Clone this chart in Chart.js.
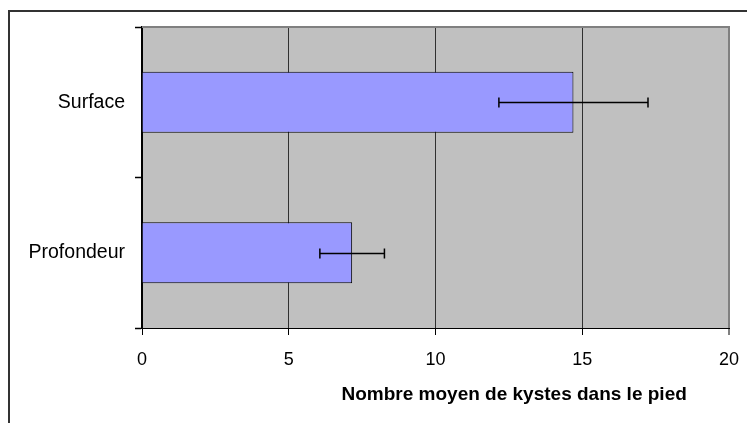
<!DOCTYPE html>
<html>
<head>
<meta charset="utf-8">
<script src="https://cdn.jsdelivr.net/npm/chart.js@4"></script>
<style>
  html, body { margin: 0; padding: 0; background: #fff; }
  canvas { display: block; }
</style>
</head>
<body>
<canvas id="c" width="747" height="423"></canvas>
<script>
const categories = ['Surface', 'Profondeur'];
const means = [14.7, 7.16];
const errors = [2.54, 1.1];
const xMin = 0;
const xMax = 20;
const xStep = 5;
const xTitle = 'Nombre moyen de kystes dans le pied';

const FONT = "'Liberation Sans', Arial, sans-serif";
Chart.defaults.font.family = FONT;
Chart.defaults.color = '#000';

const bgPlugin = {
  id: 'bg',
  beforeDraw(chart) {
    const { ctx, chartArea: a } = chart;
    ctx.save();
    ctx.fillStyle = '#C0C0C0';
    ctx.fillRect(a.left, a.top, a.right - a.left, a.bottom - a.top);
    ctx.restore();
  },
  afterDatasetsDraw(chart) {
    const { ctx } = chart;
    const xs = chart.scales.x, ys = chart.scales.y;
    ctx.save();
    ctx.strokeStyle = '#000';
    ctx.lineWidth = 1.5;
    means.forEach((m, i) => {
      const y = Math.round(ys.getPixelForValue(i)) + 0.5;
      const x1 = xs.getPixelForValue(m - errors[i]);
      const x2 = xs.getPixelForValue(m + errors[i]);
      ctx.beginPath();
      ctx.moveTo(x1, y); ctx.lineTo(x2, y);
      ctx.moveTo(x1, y - 5); ctx.lineTo(x1, y + 5);
      ctx.moveTo(x2, y - 5); ctx.lineTo(x2, y + 5);
      ctx.stroke();
    });
    ctx.restore();
  },
  afterDraw(chart) {
    const { ctx, chartArea: a } = chart;
    ctx.save();
    // plot area top border
    ctx.strokeStyle = '#808080';
    ctx.lineWidth = 2;
    ctx.beginPath();
    ctx.moveTo(a.left, a.top);
    ctx.lineTo(a.right + 1, a.top);
    ctx.stroke();
    // outer frame
    ctx.strokeStyle = '#333';
    ctx.lineWidth = 2;
    ctx.beginPath();
    ctx.moveTo(9, 423);
    ctx.lineTo(9, 11);
    ctx.lineTo(747, 11);
    ctx.stroke();
    // axis title
    ctx.fillStyle = '#000';
    ctx.font = 'bold 19px ' + FONT;
    ctx.textAlign = 'center';
    ctx.textBaseline = 'alphabetic';
    const cx = a.left + (a.right - a.left) * 0.634;
    ctx.fillText(xTitle, cx, 400);
    ctx.restore();
  }
};

new Chart(document.getElementById('c'), {
  type: 'bar',
  data: {
    labels: categories,
    datasets: [{
      data: means,
      backgroundColor: '#9999FF',
      borderColor: '#000',
      borderWidth: 1,
      borderSkipped: 'start',
      categoryPercentage: 1,
      barPercentage: 0.405
    }]
  },
  options: {
    indexAxis: 'y',
    responsive: false,
    animation: false,
    devicePixelRatio: 1,
    layout: { padding: { left: 0, top: 27, right: 18, bottom: 0 } },
    plugins: { legend: { display: false }, tooltip: { enabled: false } },
    scales: {
      x: {
        min: xMin,
        max: xMax,
        ticks: { stepSize: xStep, font: { size: 18 }, padding: 14, color: '#000' },
        grid: {
          color: (c) => c.tick && c.tick.value === xMax ? '#808080' : (c.tick && c.tick.value === xMin ? 'rgba(0,0,0,0)' : '#303030'),
          lineWidth: (c) => c.tick && c.tick.value === xMax ? 2 : 1,
          tickColor: '#000',
          tickWidth: 1,
          tickLength: 7
        },
        border: { color: '#000', width: 1 },
        afterFit(s) { s.height = 95; s.paddingRight = 0; s.paddingLeft = 0; }
      },
      y: {
        ticks: { font: { size: 19.5 }, padding: 10, color: '#000' },
        grid: {
          drawOnChartArea: false,
          tickColor: '#000',
          tickWidth: 1.5,
          tickLength: 7
        },
        border: { color: '#000', width: 2 },
        afterFit(s) { s.width = 142; }
      }
    }
  },
  plugins: [bgPlugin]
});
</script>
</body>
</html>
